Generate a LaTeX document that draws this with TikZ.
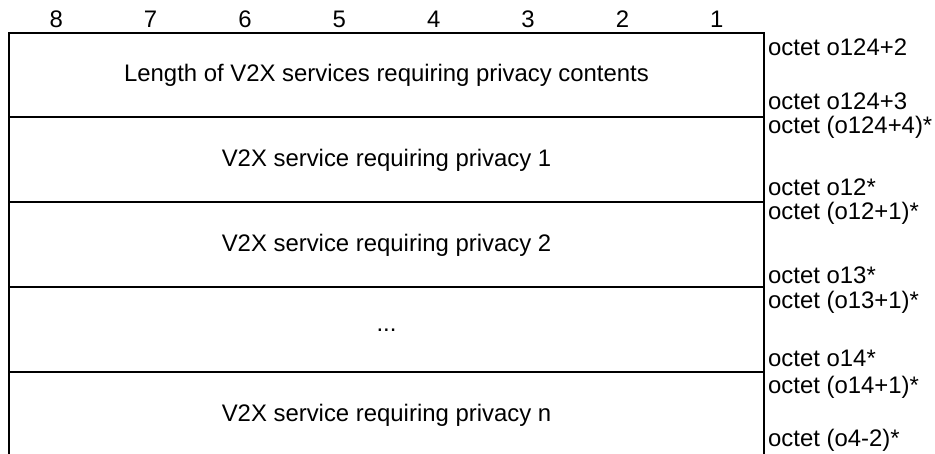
\documentclass[tikz,border=0pt]{standalone}
\usepackage{fontspec}
\setmainfont{Liberation Sans}
\begin{document}
\begin{tikzpicture}[x=1pt,y=-1pt,
  every node/.style={font=\fontsize{23.9}{27}\selectfont, inner sep=0pt},
  frame/.style={line width=2pt},
  octet/.style={anchor=west},
  colnum/.style={anchor=center}]
\useasboundingbox (0,0) rectangle (935,454);
% frame
\draw[frame] (9,454) -- (9,33) -- (764,33) -- (764,454);
\foreach \y in {117,202,287,372} \draw[frame] (9,\y) -- (764,\y);
% column numbers
\foreach \i in {1,...,8} \node[colnum] (c\i) at ({764-94.375*(\i-0.5)},19) {\i};
% row contents
\node (r1) at (386.5,75) {Length of V2X services requiring privacy contents};
\node (r2) at (386.5,160) {V2X service requiring privacy 1};
\node (r3) at (386.5,245) {V2X service requiring privacy 2};
\node (r4) at (386.5,330) {...};
\node (r5) at (386.5,415) {V2X service requiring privacy n};
% octet labels
\node[octet] (o1) at (768,47) {octet o124+2};
\node[octet] (o2) at (768,101) {octet o124+3};
\node[octet] (o3) at (768,127) {octet (o124+4)*};
\node[octet] (o4) at (768,187) {octet o12*};
\node[octet] (o5) at (768,213) {octet (o12+1)*};
\node[octet] (o6) at (768,275) {octet o13*};
\node[octet] (o7) at (768,302) {octet (o13+1)*};
\node[octet] (o8) at (768,358) {octet o14*};
\node[octet] (o9) at (768,387) {octet (o14+1)*};
\node[octet] (o10) at (768,440) {octet (o4-2)*};
\end{tikzpicture}
\end{document}
